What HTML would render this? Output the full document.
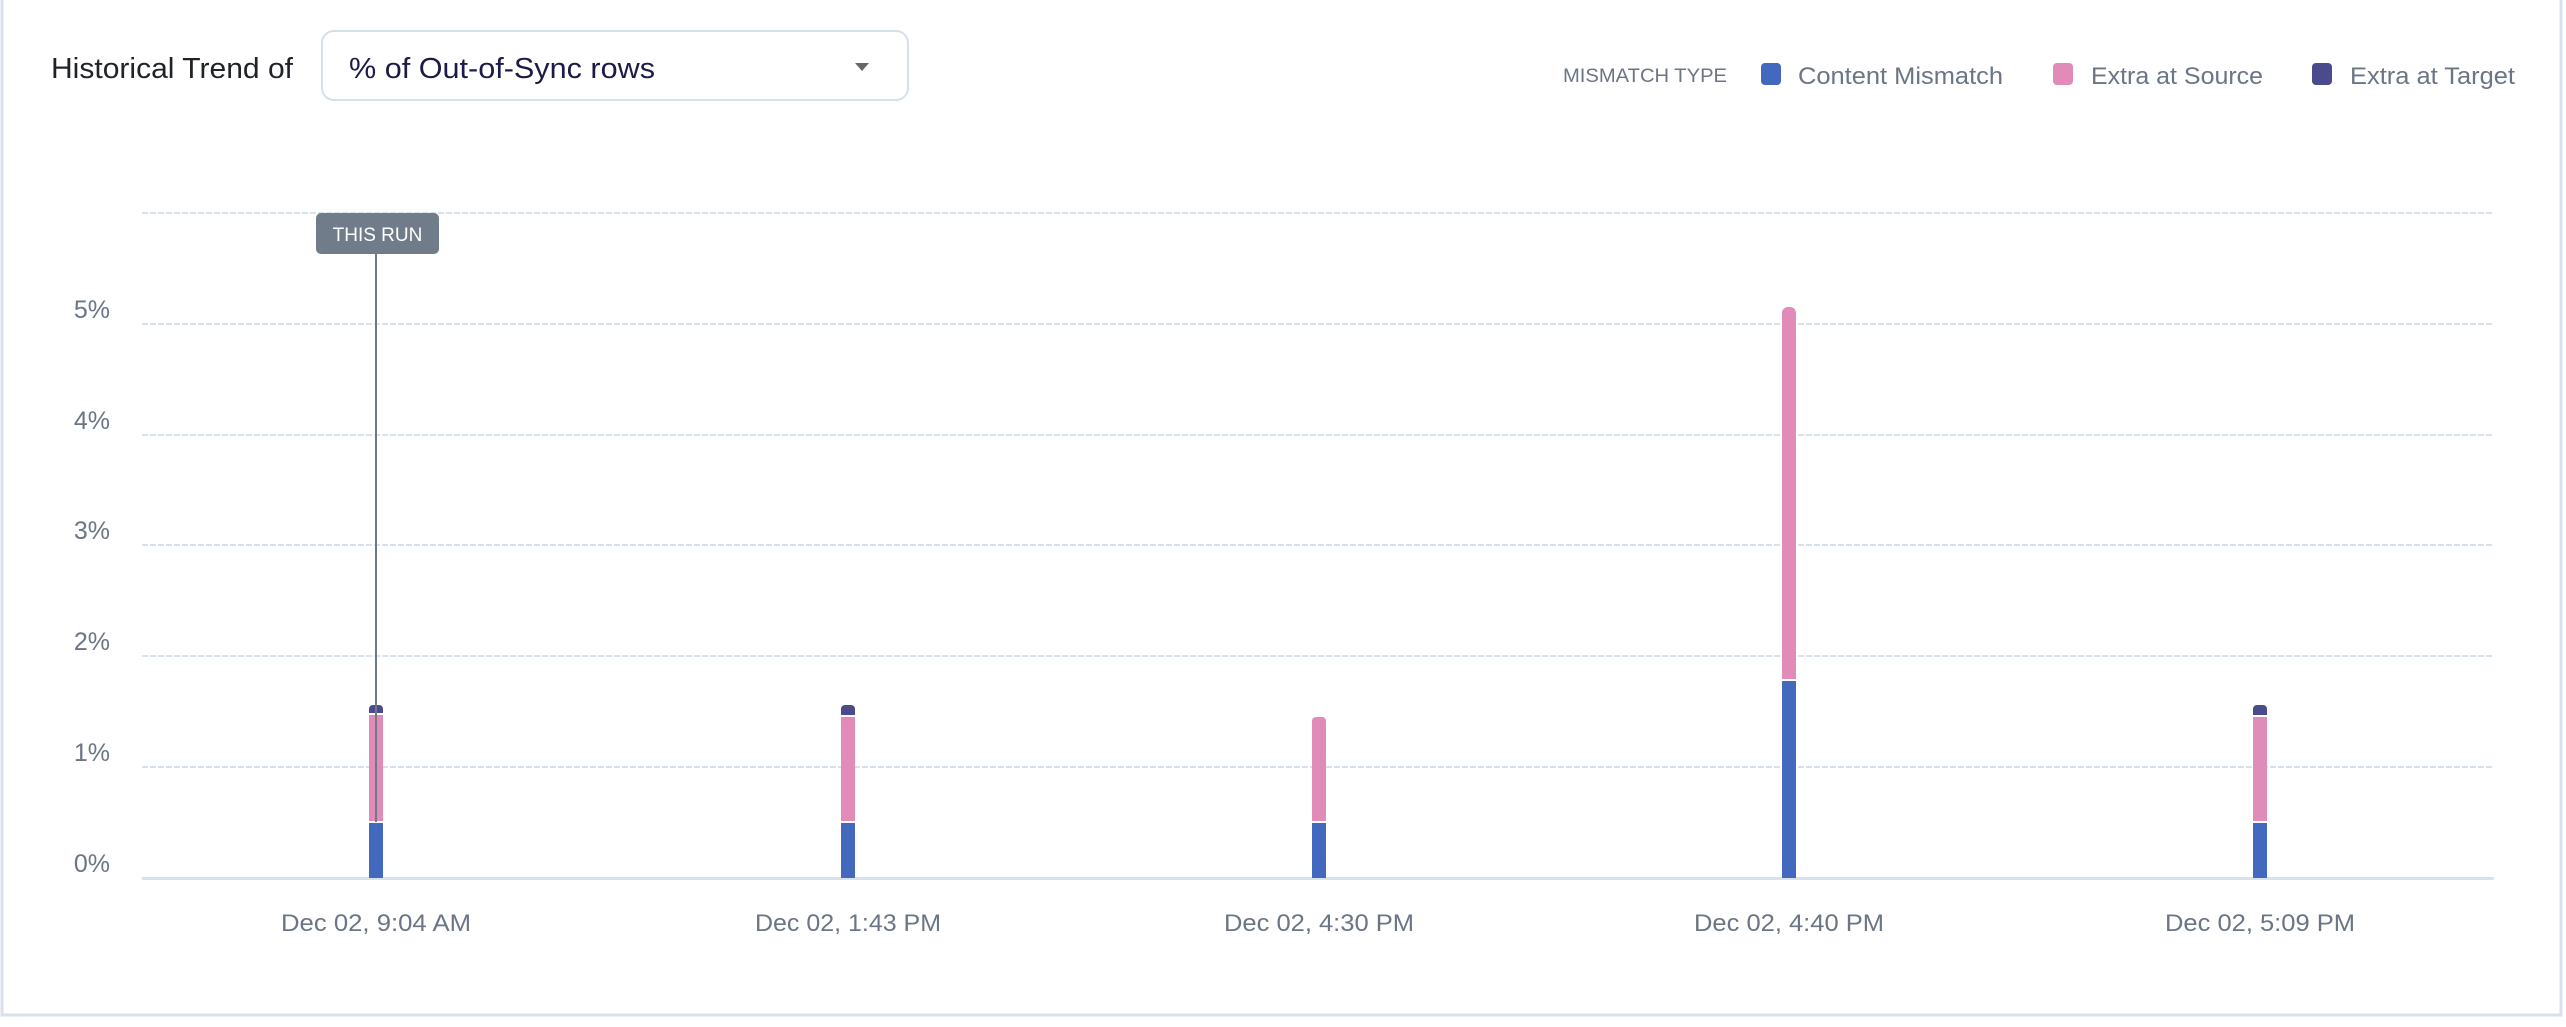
<!DOCTYPE html>
<html><head><meta charset="utf-8"><style>
html,body{margin:0;padding:0;background:#fff;}
body{width:2566px;height:1022px;overflow:hidden;font-family:"Liberation Sans",sans-serif;}
</style></head><body>
<svg width="2566" height="1022" xmlns="http://www.w3.org/2000/svg" font-family="Liberation Sans, sans-serif">
<rect x="2" y="-2" width="2559" height="1017" fill="#fff" stroke="#d9e2ec" stroke-width="3"/>
<text x="51" y="78" font-size="29" fill="#1f2328" textLength="242" lengthAdjust="spacingAndGlyphs">Historical Trend of</text>
<rect x="322" y="31" width="586" height="69" rx="12" fill="#fff" stroke="#d6e0ec" stroke-width="2"/>
<text x="349" y="78" font-size="29" fill="#1b1b48" textLength="306" lengthAdjust="spacingAndGlyphs">% of Out-of-Sync rows</text>
<path d="M855 63 L869 63 L862 71 Z" fill="#666"/>
<text x="1563" y="82" font-size="19" fill="#6b7585" textLength="164" lengthAdjust="spacingAndGlyphs">MISMATCH TYPE</text>
<rect x="1761" y="63" width="20" height="22" rx="4" fill="#4369be"/>
<text x="1798" y="84" font-size="24" fill="#6b7585" textLength="205" lengthAdjust="spacingAndGlyphs">Content Mismatch</text>
<rect x="2053" y="63" width="20" height="22" rx="4" fill="#e08bb8"/>
<text x="2091" y="84" font-size="24" fill="#6b7585" textLength="172" lengthAdjust="spacingAndGlyphs">Extra at Source</text>
<rect x="2312" y="63" width="20" height="22" rx="4" fill="#4a4a8c"/>
<text x="2350" y="84" font-size="24" fill="#6b7585" textLength="165" lengthAdjust="spacingAndGlyphs">Extra at Target</text>
<g stroke="#d8e2ec" stroke-width="2" stroke-dasharray="6,2">
<line x1="142" y1="213" x2="2494" y2="213"/>
<line x1="142" y1="324" x2="2494" y2="324"/>
<line x1="142" y1="435" x2="2494" y2="435"/>
<line x1="142" y1="545" x2="2494" y2="545"/>
<line x1="142" y1="656" x2="2494" y2="656"/>
<line x1="142" y1="767" x2="2494" y2="767"/>
</g>
<line x1="142" y1="878.5" x2="2494" y2="878.5" stroke="#d8e2ec" stroke-width="3"/>
<g font-size="25" fill="#6b7585" text-anchor="end">
<text x="110" y="872">0%</text>
<text x="110" y="761">1%</text>
<text x="110" y="650">2%</text>
<text x="110" y="539">3%</text>
<text x="110" y="429">4%</text>
<text x="110" y="318">5%</text>
</g>
<g font-size="24" fill="#6b7585" text-anchor="middle" lengthAdjust="spacingAndGlyphs">
<text x="376" y="931" textLength="190" lengthAdjust="spacingAndGlyphs">Dec 02, 9:04 AM</text>
<text x="848" y="931" textLength="186" lengthAdjust="spacingAndGlyphs">Dec 02, 1:43 PM</text>
<text x="1319" y="931" textLength="190" lengthAdjust="spacingAndGlyphs">Dec 02, 4:30 PM</text>
<text x="1789" y="931" textLength="190" lengthAdjust="spacingAndGlyphs">Dec 02, 4:40 PM</text>
<text x="2260" y="931" textLength="190" lengthAdjust="spacingAndGlyphs">Dec 02, 5:09 PM</text>
</g>
<rect x="369" y="823" width="14" height="55" fill="#4369be"/>
<rect x="369" y="715" width="14" height="106" fill="#e08bb8"/>
<path d="M369 713 V709 a4 4 0 0 1 4 -4 h6 a4 4 0 0 1 4 4 V713 Z" fill="#4a4a8c"/>
<rect x="841" y="823" width="14" height="55" fill="#4369be"/>
<rect x="841" y="717" width="14" height="104" fill="#e08bb8"/>
<path d="M841 715 V709 a4 4 0 0 1 4 -4 h6 a4 4 0 0 1 4 4 V715 Z" fill="#4a4a8c"/>
<rect x="1312" y="823" width="14" height="55" fill="#4369be"/>
<path d="M1312 821 V721 a4 4 0 0 1 4 -4 h6 a4 4 0 0 1 4 4 V821 Z" fill="#e08bb8"/>
<rect x="1782" y="681" width="14" height="197" fill="#4369be"/>
<path d="M1782 679 V313 a6 6 0 0 1 6 -6 h2 a6 6 0 0 1 6 6 V679 Z" fill="#e08bb8"/>
<rect x="2253" y="823" width="14" height="55" fill="#4369be"/>
<rect x="2253" y="717" width="14" height="104" fill="#e08bb8"/>
<path d="M2253 715 V709 a4 4 0 0 1 4 -4 h6 a4 4 0 0 1 4 4 V715 Z" fill="#4a4a8c"/>
<line x1="376" y1="254" x2="376" y2="822" stroke="#6e7a88" stroke-width="2"/>
<rect x="316" y="213" width="123" height="41" rx="5" fill="#717c8a"/>
<text x="377.5" y="241" font-size="19" fill="#fff" text-anchor="middle">THIS RUN</text>
</svg>
</body></html>
